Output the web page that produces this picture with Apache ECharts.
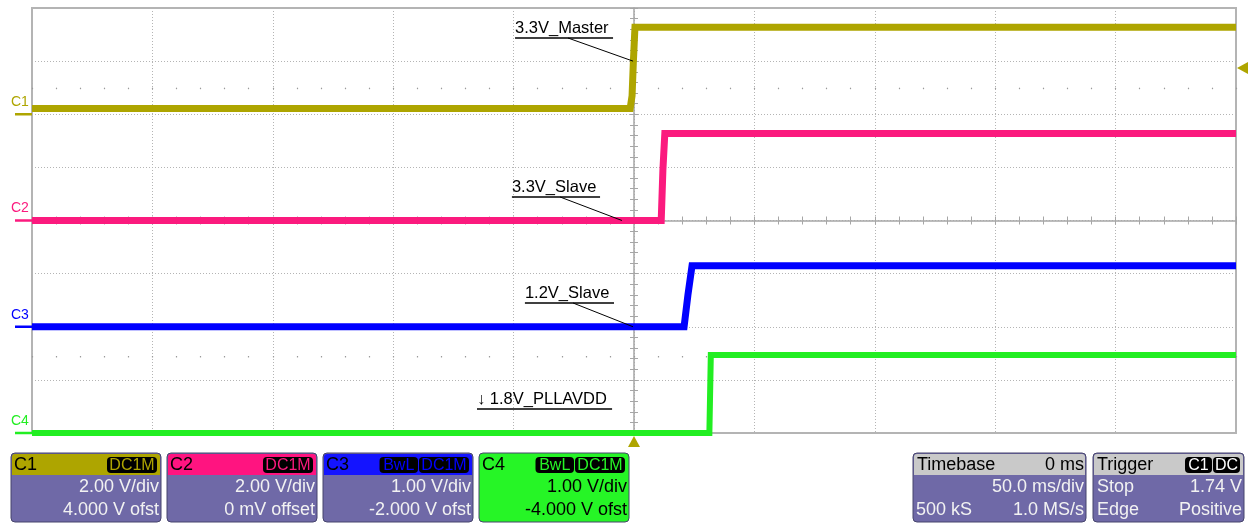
<!DOCTYPE html>
<html>
<head>
<meta charset="utf-8">
<script src="https://cdn.jsdelivr.net/npm/echarts@6/dist/echarts.min.js"></script>
<style>
  html, body { margin: 0; padding: 0; background: #ffffff; }
  #chart { width: 1250px; height: 525px; }
</style>
</head>
<body>
<div id="chart"></div>
<script>
// ---- Channel setup (scope vertical settings) ----
const channelNames = ['C1', 'C2', 'C3', 'C4'];
const voltsPerDiv  = [2.0, 2.0, 1.0, 1.0];
const offsetVolts  = [4.0, 0.0, -2.0, -4.0];
const couplingTags = [['DC1M'], ['DC1M'], ['BwL', 'DC1M'], ['BwL', 'DC1M']];
const scaleText    = ['2.00 V/div', '2.00 V/div', '1.00 V/div', '1.00 V/div'];
const offsetText   = ['4.000 V ofst', '0 mV offset', '-2.000 V ofst', '-4.000 V ofst'];

// ---- Timebase: 50 ms/div, 10 divisions, trigger at t = 0 ----
const timeMin = -250, timeMax = 250, timePerDiv = 50;

// ---- Captured waveforms (time in ms, level in V) ----
const c1TimeMs = [-250, -1.6, -0.8, -0.3, 0.4, 250];
const c1Volts  = [0.22, 0.22, 0.7, 1.9, 3.28, 3.28];

const c2TimeMs = [-250, 11.3, 12.0, 12.8, 250];
const c2Volts  = [0.0, 0.0, 1.9, 3.28, 3.28];

const c3TimeMs = [-250, 20.8, 22.4, 24.1, 250];
const c3Volts  = [0.0, 0.0, 0.6, 1.15, 1.15];

const c4TimeMs = [-250, 31.3, 31.9, 250];
const c4Volts  = [0.0, 0.0, 1.47, 1.47];

const traceTimes = [c1TimeMs, c2TimeMs, c3TimeMs, c4TimeMs];
const traceVolts = [c1Volts, c2Volts, c3Volts, c4Volts];

// ---- Trigger / acquisition readouts ----
const triggerLevel = 1.74;
const timebaseInfo = { delay: '0 ms', scale: '50.0 ms/div', samples: '500 kS', rate: '1.0 MS/s' };
const triggerInfo  = { tags: ['C1', 'DC'], mode: 'Stop', level: '1.74 V', type: 'Edge', slope: 'Positive' };

// ---- Trace annotations: label line (t0..t1 at level), pointer end ----
const noteTexts   = ['3.3V_Master', '3.3V_Slave', '1.2V_Slave', '\u2193 1.8V_PLLAVDD'];
const noteChannel = [0, 1, 2, 3];
const noteLineT   = [[-49.4, -8.7], [-50.7, -14.1], [-45.3, -8.3], [-65.2, -9.1]];
const noteLineV   = [2.87, 0.885, 0.447, 0.452];
const notePointer = [[-27.4, 2.87, -0.4, 2.0], [-30.7, 0.885, -5.0, 0.0], [-25.3, 0.447, -0.4, 0.0], null];

// ---- Styling ----
const traceColors  = ['#aea500', '#fb1a7e', '#0000ff', '#22ee22'];
const headerColors = ['#aea500', '#ff1480', '#1414ff', '#26f526'];
const traceWidths  = [7, 7, 7, 6];
const gridColor = '#b4b4b4';
const axisColor = '#a6a6a6';
const panelBody = '#6f69a7';
const panelEdge = '#47456c';
const FONT = 'Liberation Sans, Arial, sans-serif';

const chart = echarts.init(document.getElementById('chart'), null, { renderer: 'canvas' });

const bareAxis = {
  type: 'value', show: true,
  axisLabel: { show: false }, axisLine: { show: false },
  axisTick: { show: false }, splitLine: { show: false }, minorTick: { show: false }
};
const xBase = Object.assign({}, bareAxis, { min: timeMin, max: timeMax, interval: timePerDiv });

// Per-channel vertical axis: centre = -offset, 8 divisions tall
const channelY = channelNames.map((n, i) => Object.assign({}, bareAxis, {
  min: -offsetVolts[i] - 4 * voltsPerDiv[i],
  max: -offsetVolts[i] + 4 * voltsPerDiv[i],
  interval: voltsPerDiv[i],
  splitLine: i === 0 ? { show: true, lineStyle: { color: gridColor, width: 1, type: [1, 2] } } : { show: false }
}));

const centreTick = { show: true, length: 4, lineStyle: { color: axisColor, width: 1 } };
const centreMinor = { show: true, splitNumber: 5, length: 4, lineStyle: { color: axisColor, width: 1 } };
const dotTick = { show: true, length: 1.5, lineStyle: { color: '#9a9a9a', width: 1.2 } };
const dotMinor = { show: true, splitNumber: 5, length: 1.5, lineStyle: { color: '#9a9a9a', width: 1.2 } };

// y-axis indices: 0-3 channels, 4-5 centre line, 6-7 guides for the dotted rows
const xAxes = [
  Object.assign({}, xBase, { position: 'bottom', splitLine: { show: true, lineStyle: { color: gridColor, width: 1, type: [1, 2] } } }),
  // centre horizontal graticule line with ticks on both sides
  Object.assign({}, xBase, { position: 'bottom', axisLine: { show: true, onZero: true, onZeroAxisIndex: 1, lineStyle: { color: axisColor, width: 1.5 } },
    axisTick: Object.assign({}, centreTick, { inside: false }), minorTick: centreMinor }),
  Object.assign({}, xBase, { position: 'bottom', axisLine: { show: false, onZero: true, onZeroAxisIndex: 1 },
    axisTick: Object.assign({}, centreTick, { inside: true }), minorTick: centreMinor }),
  // dotted sub-division rows above and below centre
  Object.assign({}, xBase, { position: 'bottom', axisLine: { show: false, onZero: true, onZeroAxisIndex: 6 }, axisTick: dotTick, minorTick: dotMinor }),
  Object.assign({}, xBase, { position: 'bottom', axisLine: { show: false, onZero: true, onZeroAxisIndex: 7 }, axisTick: dotTick, minorTick: dotMinor })
];

const centreY = { min: -8, max: 8, interval: 2 };
const yAxes = channelY.concat([
  Object.assign({}, bareAxis, centreY, { position: 'left', axisLine: { show: true, onZero: true, onZeroAxisIndex: 0, lineStyle: { color: axisColor, width: 1.5 } },
    axisTick: Object.assign({}, centreTick, { inside: false }), minorTick: centreMinor }),
  Object.assign({}, bareAxis, centreY, { position: 'left', axisLine: { show: false, onZero: true, onZeroAxisIndex: 0 },
    axisTick: Object.assign({}, centreTick, { inside: true }), minorTick: centreMinor }),
  // division scales whose zero sits on the dotted rows
  Object.assign({}, bareAxis, { min: -6.5, max: 1.5, interval: 0.5 }),
  Object.assign({}, bareAxis, { min: -1.45, max: 6.55, interval: 0.05 })
]);

const series = channelNames.map((name, i) => ({
  name, type: 'line', xAxisIndex: 0, yAxisIndex: i,
  data: traceTimes[i].map((t, k) => [t, traceVolts[i][k]]),
  showSymbol: false, symbol: 'none', clip: false, silent: true,
  lineStyle: { color: traceColors[i], width: traceWidths[i], join: 'miter' },
  z: 5 + i
}));

chart.setOption({
  animation: false,
  backgroundColor: '#ffffff',
  grid: { left: 32, right: 14, top: 8, bottom: 92, show: true, borderColor: gridColor, borderWidth: 2, backgroundColor: '#ffffff' },
  xAxis: xAxes,
  yAxis: yAxes,
  series
});

// ---- Overlays: channel markers, trigger markers, notes, readout panels ----
function px(ch, t, v) { return chart.convertToPixel({ seriesIndex: ch }, [t, v]); }

const g = [];
function text(x, y, s, fill, size, align, vAlign, z) {
  g.push({ type: 'text', z: z || 50, style: { x, y, text: s, fill, font: size + 'px ' + FONT,
    align: align || 'left', verticalAlign: vAlign || 'middle', textAlign: align || 'left', textVerticalAlign: vAlign || 'middle' } });
}
function line(x1, y1, x2, y2, stroke, w, z) {
  g.push({ type: 'line', z: z || 40, shape: { x1, y1, x2, y2 }, style: { stroke, lineWidth: w } });
}
function rect(x, y, w, h, fill, r, stroke, z) {
  g.push({ type: 'rect', z: z || 30, shape: { x, y, width: w, height: h, r: r || 0 },
    style: { fill, stroke: stroke || null, lineWidth: stroke ? 1 : 0 } });
}

const gridLeft = chart.convertToPixel({ xAxisIndex: 0 }, timeMin);

// channel ground markers at left edge
channelNames.forEach((n, i) => {
  const p = px(i, timeMin, 0);
  line(15, p[1], gridLeft, p[1], traceColors[i], 2.5, 45);
  text(11, p[1] - 5, n, traceColors[i], 14, 'left', 'bottom', 45);
});

// trigger level (right edge) and trigger position (bottom edge)
const tl = px(0, timeMax, triggerLevel);
g.push({ type: 'polygon', z: 45, shape: { points: [[tl[0] + 1, tl[1]], [tl[0] + 12, tl[1] - 6], [tl[0] + 12, tl[1] + 6]] }, style: { fill: traceColors[0] } });
const tp = px(3, 0, 0);
g.push({ type: 'polygon', z: 45, shape: { points: [[tp[0], tp[1] + 3], [tp[0] - 6, tp[1] + 14], [tp[0] + 6, tp[1] + 14]] }, style: { fill: traceColors[0] } });

// notes
noteTexts.forEach((s, i) => {
  const ch = noteChannel[i];
  const a = px(ch, noteLineT[i][0], noteLineV[i]);
  const b = px(ch, noteLineT[i][1], noteLineV[i]);
  line(a[0], a[1], b[0], b[1], '#000000', 1.4, 60);
  text(a[0], a[1] - 1, s, '#000000', 16.5, 'left', 'bottom', 60);
  const pt = notePointer[i];
  if (pt) {
    const p1 = px(ch, pt[0], pt[1]);
    const p2 = px(ch, pt[2], pt[3]);
    line(p1[0], p1[1], p2[0], p2[1], '#000000', 1, 60);
  }
});

// readout panels
const panelTop = 453, headH = 21, panelH = 69;
function panel(x, w, headFill, bodyFill) {
  rect(x, panelTop, w, panelH, bodyFill, 4, panelEdge, 30);
  rect(x + 1, panelTop + 1, w - 2, headH, headFill, [3, 3, 0, 0], null, 31);
}
function badges(rightX, tags, color) {
  const widths = tags.map(t => t.length * 11.5 + 5);
  let x = rightX;
  for (let k = tags.length - 1; k >= 0; k--) {
    x -= widths[k];
    rect(x, panelTop + 4, widths[k] - 1, 16, '#000000', 4, null, 32);
    text(x + (widths[k] - 1) / 2, panelTop + 12.5, tags[k], color, 16, 'center', 'middle', 33);
  }
}

const chanPanelX = [11, 167, 323, 479];
channelNames.forEach((n, i) => {
  const x = chanPanelX[i], w = 150;
  const selected = i === 3;
  panel(x, w, headerColors[i], selected ? headerColors[i] : panelBody);
  text(x + 3, panelTop + 12, n, '#000000', 18, 'left', 'middle', 34);
  badges(x + w - 3, couplingTags[i], selected ? headerColors[i] : traceColors[i]);
  const fg = selected ? '#000000' : '#f2f2f2';
  text(x + w - 2, 487, scaleText[i], fg, 18, 'right', 'middle', 34);
  text(x + w - 2, 510, offsetText[i], fg, 18, 'right', 'middle', 34);
});

// timebase panel
(function () {
  const x = 913, w = 173;
  panel(x, w, '#c9c9c9', panelBody);
  text(x + 4, panelTop + 12, 'Timebase', '#000000', 18, 'left', 'middle', 34);
  text(x + w - 2, panelTop + 12, timebaseInfo.delay, '#000000', 18, 'right', 'middle', 34);
  text(x + w - 2, 487, timebaseInfo.scale, '#f2f2f2', 18, 'right', 'middle', 34);
  text(x + 3, 510, timebaseInfo.samples, '#f2f2f2', 18, 'left', 'middle', 34);
  text(x + w - 2, 510, timebaseInfo.rate, '#f2f2f2', 18, 'right', 'middle', 34);
})();

// trigger panel
(function () {
  const x = 1093, w = 151;
  panel(x, w, '#c9c9c9', panelBody);
  text(x + 4, panelTop + 12, 'Trigger', '#000000', 18, 'left', 'middle', 34);
  badges(x + w - 3, triggerInfo.tags, '#ffffff');
  text(x + 4, 487, triggerInfo.mode, '#f2f2f2', 18, 'left', 'middle', 34);
  text(x + w - 2, 487, triggerInfo.level, '#f2f2f2', 18, 'right', 'middle', 34);
  text(x + 4, 510, triggerInfo.type, '#f2f2f2', 18, 'left', 'middle', 34);
  text(x + w - 2, 510, triggerInfo.slope, '#f2f2f2', 18, 'right', 'middle', 34);
})();

chart.setOption({ graphic: g });
</script>
</body>
</html>
